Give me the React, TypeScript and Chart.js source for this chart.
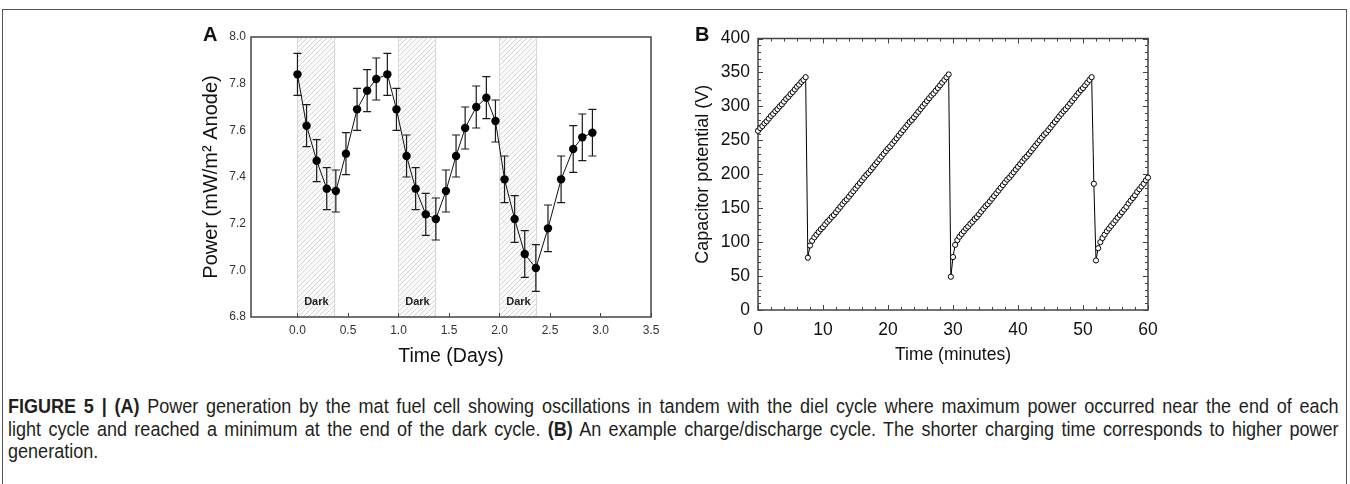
import React, { useEffect, useRef } from 'react';
import { Chart, registerables } from 'chart.js';

Chart.register(...registerables);

const SANS = "'Liberation Sans', Arial, Helvetica, sans-serif";

// ---------------- Panel A: power vs time (days) ----------------
const daysA = [0, 0.09, 0.19, 0.29, 0.38, 0.48, 0.59, 0.69, 0.78, 0.89, 0.98, 1.08, 1.17, 1.27, 1.37, 1.47, 1.57, 1.66, 1.77, 1.87, 1.96, 2.05, 2.15, 2.25, 2.36, 2.48, 2.61, 2.73, 2.82, 2.92];
const powerA = [7.84, 7.62, 7.47, 7.35, 7.34, 7.5, 7.69, 7.77, 7.82, 7.84, 7.69, 7.49, 7.35, 7.24, 7.22, 7.34, 7.49, 7.61, 7.7, 7.74, 7.64, 7.39, 7.22, 7.07, 7.01, 7.18, 7.39, 7.52, 7.57, 7.59];
const errorA = [0.09, 0.09, 0.09, 0.09, 0.09, 0.09, 0.09, 0.09, 0.09, 0.09, 0.09, 0.09, 0.09, 0.09, 0.09, 0.09, 0.09, 0.09, 0.09, 0.09, 0.09, 0.1, 0.1, 0.1, 0.1, 0.1, 0.1, 0.1, 0.1, 0.1];
const darkStartA = [0, 1, 2];
const darkEndA = [0.375, 1.375, 2.375];
const darkTextA = 'Dark';
const xTicksA = [0, 0.5, 1, 1.5, 2, 2.5, 3, 3.5];
const xTickLabelsA = ['0.0', '0.5', '1.0', '1.5', '2.0', '2.5', '3.0', '3.5'];
const yTicksA = [6.8, 7.0, 7.2, 7.4, 7.6, 7.8, 8.0];
const yTickLabelsA = ['6.8', '7.0', '7.2', '7.4', '7.6', '7.8', '8.0'];
const xTitleA = 'Time (Days)';
const yTitleA = 'Power (mW/m\u00B2 Anode)';

// ---------------- Panel B: capacitor potential vs time (minutes) ----------------
const minutesB = [
  0, 0.33, 0.67, 1, 1.33, 1.67, 2, 2.33, 2.67, 3, 3.33, 3.67,
  4, 4.33, 4.67, 5, 5.33, 5.67, 6, 6.33, 6.67, 7, 7.33, 7.67,
  8, 8.33, 8.67, 9, 9.33, 9.67, 10, 10.33, 10.67, 11, 11.33, 11.67,
  12, 12.33, 12.67, 13, 13.33, 13.67, 14, 14.33, 14.67, 15, 15.33, 15.67,
  16, 16.33, 16.67, 17, 17.33, 17.67, 18, 18.33, 18.67, 19, 19.33, 19.67,
  20, 20.33, 20.67, 21, 21.33, 21.67, 22, 22.33, 22.67, 23, 23.33, 23.67,
  24, 24.33, 24.67, 25, 25.33, 25.67, 26, 26.33, 26.67, 27, 27.33, 27.67,
  28, 28.33, 28.67, 29, 29.33, 29.67, 30, 30.33, 30.67, 31, 31.33, 31.67,
  32, 32.33, 32.67, 33, 33.33, 33.67, 34, 34.33, 34.67, 35, 35.33, 35.67,
  36, 36.33, 36.67, 37, 37.33, 37.67, 38, 38.33, 38.67, 39, 39.33, 39.67,
  40, 40.33, 40.67, 41, 41.33, 41.67, 42, 42.33, 42.67, 43, 43.33, 43.67,
  44, 44.33, 44.67, 45, 45.33, 45.67, 46, 46.33, 46.67, 47, 47.33, 47.67,
  48, 48.33, 48.67, 49, 49.33, 49.67, 50, 50.33, 50.67, 51, 51.33, 51.67,
  52, 52.33, 52.67, 53, 53.33, 53.67, 54, 54.33, 54.67, 55, 55.33, 55.67,
  56, 56.33, 56.67, 57, 57.33, 57.67, 58, 58.33, 58.67, 59, 59.33, 59.67,
  60,
];
const voltsB = [
  264, 268, 271, 275, 278, 282, 286, 289, 293, 296, 300, 303,
  307, 311, 314, 318, 321, 325, 329, 332, 336, 339, 343, 77,
  95, 102, 107, 111, 115, 119, 122, 126, 130, 133, 137, 140,
  144, 148, 152, 156, 160, 163, 167, 171, 175, 179, 183, 187,
  191, 195, 199, 202, 206, 210, 214, 218, 222, 226, 230, 234,
  238, 241, 245, 249, 253, 257, 261, 265, 269, 273, 277, 280,
  284, 288, 292, 296, 300, 304, 308, 312, 316, 319, 323, 327,
  331, 335, 339, 343, 347, 49, 78, 96, 103, 108, 112, 116,
  120, 123, 127, 130, 134, 137, 141, 145, 149, 153, 156, 160,
  164, 168, 172, 176, 180, 184, 188, 192, 195, 199, 203, 207,
  211, 215, 219, 223, 226, 230, 234, 238, 242, 246, 250, 254,
  258, 261, 265, 269, 273, 277, 281, 285, 289, 293, 296, 300,
  304, 308, 312, 316, 320, 324, 327, 331, 335, 339, 343, 186,
  73, 91, 100, 106, 111, 116, 120, 124, 128, 132, 136, 140,
  144, 148, 152, 157, 161, 165, 169, 174, 178, 182, 186, 191,
  195,
];
const xTicksB = [0, 10, 20, 30, 40, 50, 60];
const yTicksB = [0, 50, 100, 150, 200, 250, 300, 350, 400];
const xMinorStepB = 2;
const yMinorStepB = 10;
const xTitleB = 'Time (minutes)';
const yTitleB = 'Capacitor potential (V)';

// ---------------- plugins ----------------
type FrameCfg = {
  id: string;
  color: string;
  width: number;
  xMajor: number[];
  yMajor: number[];
  xMinorStep?: number;
  yMinorStep?: number;
  majorLen: number;
  minorLen: number;
  xSides: string[];
  ySides: string[];
};

function makeFramePlugin(cfg: FrameCfg) {
  return {
    id: cfg.id,
    beforeDatasetsDraw(chart: any) {
      const { ctx, chartArea } = chart;
      const { left, right, top, bottom } = chartArea;
      const xs = chart.scales.x;
      const ys = chart.scales.y;
      ctx.save();
      ctx.strokeStyle = cfg.color;
      ctx.lineWidth = 1;
      ctx.beginPath();
      const xTick = (v: number, len: number) => {
        const px = Math.round(xs.getPixelForValue(v)) + 0.5;
        if (cfg.xSides.includes('bottom')) { ctx.moveTo(px, bottom); ctx.lineTo(px, bottom - len); }
        if (cfg.xSides.includes('top')) { ctx.moveTo(px, top); ctx.lineTo(px, top + len); }
      };
      const yTick = (v: number, len: number) => {
        const py = Math.round(ys.getPixelForValue(v)) + 0.5;
        if (cfg.ySides.includes('left')) { ctx.moveTo(left, py); ctx.lineTo(left + len, py); }
        if (cfg.ySides.includes('right')) { ctx.moveTo(right, py); ctx.lineTo(right - len, py); }
      };
      if (cfg.xMinorStep) {
        for (let v = xs.min; v <= xs.max + 1e-9; v += cfg.xMinorStep) xTick(v, cfg.minorLen);
      }
      if (cfg.yMinorStep) {
        for (let v = ys.min; v <= ys.max + 1e-9; v += cfg.yMinorStep) yTick(v, cfg.minorLen);
      }
      cfg.xMajor.forEach((v) => xTick(v, cfg.majorLen));
      cfg.yMajor.forEach((v) => yTick(v, cfg.majorLen));
      ctx.stroke();
      ctx.lineWidth = cfg.width;
      ctx.strokeRect(left, top, right - left, bottom - top);
      ctx.restore();
    },
  };
}

const bandsPlugin = {
  id: 'darkBands',
  beforeDatasetsDraw(chart: any) {
    const { ctx, chartArea } = chart;
    const x = chart.scales.x;
    const tile = document.createElement('canvas');
    tile.width = 5;
    tile.height = 5;
    const g = tile.getContext('2d')!;
    g.fillStyle = '#fbfbfb';
    g.fillRect(0, 0, 5, 5);
    g.strokeStyle = '#cdcdcd';
    g.lineWidth = 0.8;
    g.beginPath();
    g.moveTo(0, 5); g.lineTo(5, 0);
    g.moveTo(-1, 1); g.lineTo(1, -1);
    g.moveTo(4, 6); g.lineTo(6, 4);
    g.stroke();
    const pat = ctx.createPattern(tile, 'repeat');
    ctx.save();
    darkStartA.forEach((s, i) => {
      const x0 = x.getPixelForValue(s);
      const x1 = x.getPixelForValue(darkEndA[i]);
      ctx.fillStyle = pat;
      ctx.fillRect(x0, chartArea.top, x1 - x0, chartArea.bottom - chartArea.top);
      ctx.strokeStyle = '#d8d8d8';
      ctx.lineWidth = 1;
      ctx.beginPath();
      ctx.moveTo(Math.round(x0) + 0.5, chartArea.top);
      ctx.lineTo(Math.round(x0) + 0.5, chartArea.bottom);
      ctx.moveTo(Math.round(x1) - 0.5, chartArea.top);
      ctx.lineTo(Math.round(x1) - 0.5, chartArea.bottom);
      ctx.stroke();
      ctx.fillStyle = '#222';
      ctx.font = `bold 11px ${SANS}`;
      ctx.textAlign = 'center';
      ctx.textBaseline = 'middle';
      ctx.fillText(darkTextA, (x0 + x1) / 2, chartArea.bottom - 15);
    });
    ctx.restore();
  },
};

const errorBarsPlugin = {
  id: 'errorBars',
  beforeDatasetsDraw(chart: any) {
    const { ctx } = chart;
    const x = chart.scales.x;
    const y = chart.scales.y;
    ctx.save();
    ctx.strokeStyle = '#1a1a1a';
    ctx.lineWidth = 1.2;
    ctx.beginPath();
    daysA.forEach((d, i) => {
      const px = x.getPixelForValue(d);
      const pt = y.getPixelForValue(powerA[i] + errorA[i]);
      const pb = y.getPixelForValue(powerA[i] - errorA[i]);
      ctx.moveTo(px, pt); ctx.lineTo(px, pb);
      ctx.moveTo(px - 4, pt); ctx.lineTo(px + 4, pt);
      ctx.moveTo(px - 4, pb); ctx.lineTo(px + 4, pb);
    });
    ctx.stroke();
    ctx.restore();
  },
};

const frameA = makeFramePlugin({
  id: 'frameA', color: '#444', width: 1.5, xMajor: xTicksA, yMajor: [],
  majorLen: 4, minorLen: 0, xSides: ['bottom'], ySides: [],
});
const frameB = makeFramePlugin({
  id: 'frameB', color: '#444', width: 1.5, xMajor: xTicksB, yMajor: yTicksB,
  xMinorStep: xMinorStepB, yMinorStep: yMinorStepB,
  majorLen: 5, minorLen: 3, xSides: ['bottom', 'top'], ySides: ['left', 'right'],
});

export default function App() {
  const refA = useRef<HTMLCanvasElement>(null);
  const refB = useRef<HTMLCanvasElement>(null);

  useEffect(() => {
    const chartA = new Chart(refA.current!, {
      type: 'scatter',
      data: {
        datasets: [{
          data: daysA.map((d, i) => ({ x: d, y: powerA[i] })),
          showLine: true,
          borderColor: '#111',
          borderWidth: 1,
          pointRadius: 4.2,
          pointHoverRadius: 4.2,
          pointBackgroundColor: '#000',
          pointBorderColor: '#000',
          pointBorderWidth: 0,
        }],
      },
      options: {
        responsive: false,
        animation: false,
        events: [],
        layout: { padding: { left: 0, top: 17, right: 19, bottom: 0 } },
        plugins: { legend: { display: false }, tooltip: { enabled: false } },
        scales: {
          x: {
            type: 'linear', min: -0.46, max: 3.5,
            afterBuildTicks: (s: any) => { s.ticks = xTicksA.map((v) => ({ value: v })); },
            afterFit: (s: any) => { s.height = 63; },
            grid: { display: false, drawTicks: false },
            border: { display: false },
            ticks: {
              padding: 6, maxRotation: 0, autoSkip: false, color: '#333',
              font: { size: 12, family: SANS },
              callback: (_v: any, i: number) => xTickLabelsA[i],
            },
            title: {
              display: true, text: xTitleA, color: '#111',
              font: { size: 19.5, family: SANS }, padding: { top: 0, bottom: 12 },
            },
          },
          y: {
            type: 'linear', min: 6.8, max: 8.0,
            afterBuildTicks: (s: any) => { s.ticks = yTicksA.map((v) => ({ value: v })); },
            afterFit: (s: any) => { s.width = 101; },
            grid: { display: false, drawTicks: false },
            border: { display: false },
            ticks: {
              padding: 5, autoSkip: false, color: '#333',
              font: { size: 12, family: SANS },
              callback: (_v: any, i: number) => yTickLabelsA[i],
            },
            title: {
              display: true, text: yTitleA, color: '#111',
              font: { size: 20, family: SANS }, padding: { top: 49, bottom: 0 },
            },
          },
        },
      },
      plugins: [bandsPlugin, frameA, errorBarsPlugin],
    } as any);

    const chartB = new Chart(refB.current!, {
      type: 'scatter',
      data: {
        datasets: [{
          data: minutesB.map((m, i) => ({ x: m, y: voltsB[i] })),
          showLine: true,
          borderColor: '#000',
          borderWidth: 1,
          pointRadius: 2.6,
          pointHoverRadius: 2.6,
          pointBackgroundColor: '#fff',
          pointBorderColor: '#000',
          pointBorderWidth: 1,
          clip: false,
        }],
      },
      options: {
        responsive: false,
        animation: false,
        events: [],
        layout: { padding: { left: 0, top: 17, right: 22, bottom: 0 } },
        plugins: { legend: { display: false }, tooltip: { enabled: false } },
        scales: {
          x: {
            type: 'linear', min: 0, max: 60,
            afterBuildTicks: (s: any) => { s.ticks = xTicksB.map((v) => ({ value: v })); },
            afterFit: (s: any) => { s.height = 70; },
            grid: { display: false, drawTicks: false },
            border: { display: false },
            ticks: {
              padding: 10, maxRotation: 0, autoSkip: false, color: '#111',
              font: { size: 17.5, family: SANS },
              callback: (_v: any, i: number) => String(xTicksB[i]),
            },
            title: {
              display: true, text: xTitleB, color: '#111',
              font: { size: 17.5, family: SANS }, padding: { top: 0, bottom: 14 },
            },
          },
          y: {
            type: 'linear', min: 0, max: 400,
            afterBuildTicks: (s: any) => { s.ticks = yTicksB.map((v) => ({ value: v })); },
            afterFit: (s: any) => { s.width = 98; },
            grid: { display: false, drawTicks: false },
            border: { display: false },
            ticks: {
              padding: 8, autoSkip: false, color: '#111',
              font: { size: 17.5, family: SANS },
              callback: (_v: any, i: number) => String(yTicksB[i]),
            },
            title: {
              display: true, text: yTitleB, color: '#111',
              font: { size: 18, family: SANS }, padding: { top: 32, bottom: 0 },
            },
          },
        },
      },
      plugins: [frameB],
    } as any);

    return () => {
      chartA.destroy();
      chartB.destroy();
    };
  }, []);

  const lineStyle: React.CSSProperties = { textAlign: 'justify', textAlignLast: 'justify' as any, whiteSpace: 'normal' };

  return (
    <div style={{ position: 'absolute', left: 0, top: 0, width: 1350, height: 484, overflow: 'hidden', background: '#fff' }}>
      <div style={{
        position: 'absolute', left: 2, top: 9, width: 1343, height: 500,
        borderTop: '1.5px solid #555', borderLeft: '1.5px solid #555', borderRight: '1.5px solid #555',
      }} />
      <div style={{ position: 'absolute', left: 150, top: 20, width: 520, height: 360 }}>
        <canvas ref={refA} width={520} height={360} style={{ display: 'block' }} />
      </div>
      <div style={{ position: 'absolute', left: 660, top: 20, width: 510, height: 360 }}>
        <canvas ref={refB} width={510} height={360} style={{ display: 'block' }} />
      </div>
      <div style={{ position: 'absolute', left: 203, top: 24, font: `bold 20px ${SANS}`, lineHeight: '20px', color: '#111' }}>A</div>
      <div style={{ position: 'absolute', left: 695, top: 24, font: `bold 20px ${SANS}`, lineHeight: '20px', color: '#111' }}>B</div>
      <div style={{
        position: 'absolute', left: 8, top: 395, width: 1512,
        transform: 'scaleX(0.88)', transformOrigin: 'left top',
        fontFamily: SANS, fontSize: 20.5, lineHeight: '22.5px', color: '#231f20',
      }}>
        <div style={lineStyle}><b>FIGURE 5 | (A)</b> Power generation by the mat fuel cell showing oscillations in tandem with the diel cycle where maximum power occurred near the end of each</div>
        <div style={lineStyle}>light cycle and reached a minimum at the end of the dark cycle. <b>(B)</b> An example charge/discharge cycle. The shorter charging time corresponds to higher power</div>
        <div>generation.</div>
      </div>
    </div>
  );
}
